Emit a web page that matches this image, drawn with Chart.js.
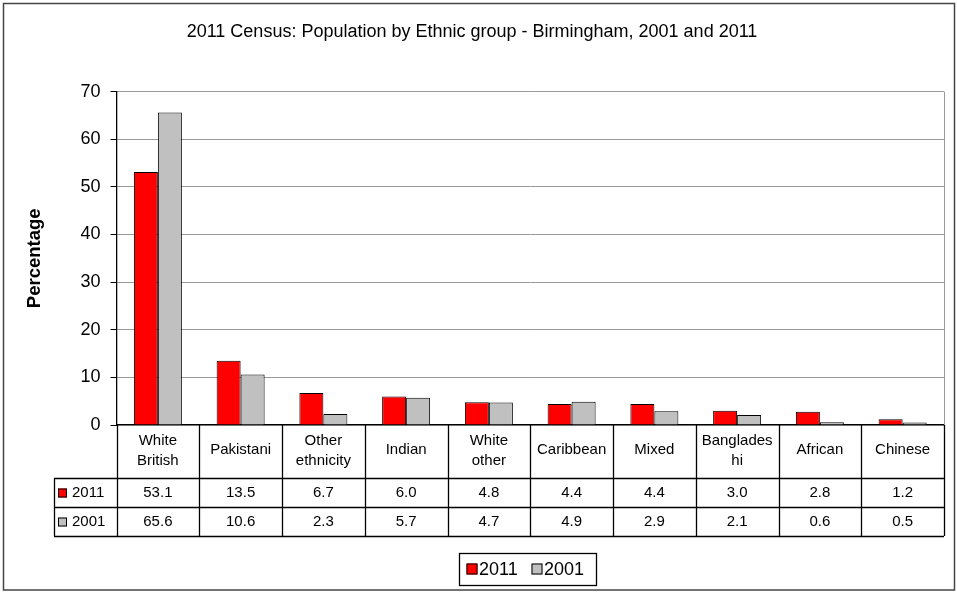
<!DOCTYPE html>
<html>
<head>
<meta charset="utf-8">
<title>2011 Census: Population by Ethnic group - Birmingham</title>
<script src="https://cdn.jsdelivr.net/npm/chart.js@4.4.1/dist/chart.umd.min.js"></script>
<style>
  html, body { margin: 0; padding: 0; background: #fff; }
  canvas { display: block; }
</style>
</head>
<body>
<canvas id="chart" width="957" height="592"></canvas>
<script>
// data
const categories = [['White', 'British'], 'Pakistani', ['Other', 'ethnicity'], 'Indian', ['White', 'other'],
    'Caribbean', 'Mixed', ['Banglades', 'hi'], 'African', 'Chinese'];
const values2011 = [53.1, 13.5, 6.7, 6.0, 4.8, 4.4, 4.4, 3.0, 2.8, 1.2];
const values2001 = [65.6, 10.6, 2.3, 5.7, 4.7, 4.9, 2.9, 2.1, 0.6, 0.5];
const seriesNames = ['2011', '2001'];
const yTicks = [0, 10, 20, 30, 40, 50, 60, 70];

const FONT = '"Liberation Sans", Arial, sans-serif';

// draws the data table under the axis, the boxed legend and the outer frame
const tablePlugin = {
    id: 'dataTable',
    afterDraw(chart) {
        const ctx = chart.ctx;
        const x = chart.scales.x;
        const area = chart.chartArea;
        const n = chart.data.labels.length;
        const colW = (area.right - area.left) / n;
        const top = area.bottom;
        const row1 = 478, row2 = 507, row3 = 536;
        const leftCol = 54;

        ctx.save();
        // plot area right border
        ctx.strokeStyle = '#999';
        ctx.lineWidth = 1;
        ctx.beginPath();
        ctx.moveTo(Math.round(area.right) + 0.5, area.top);
        ctx.lineTo(Math.round(area.right) + 0.5, area.bottom);
        ctx.stroke();

        // table grid
        ctx.strokeStyle = '#000';
        ctx.lineWidth = 1.3;
        ctx.beginPath();
        for (let i = 0; i <= n; i++) {
            const xx = Math.round(area.left + i * colW) + 0.5;
            ctx.moveTo(xx, top);
            ctx.lineTo(xx, row3);
        }
        ctx.moveTo(leftCol + 0.5, row1);
        ctx.lineTo(leftCol + 0.5, row3);
        [row1, row2, row3].forEach(y => {
            ctx.moveTo(leftCol, y + 0.5);
            ctx.lineTo(area.right, y + 0.5);
        });
        ctx.stroke();

        // header labels
        ctx.fillStyle = '#000';
        ctx.font = '15px ' + FONT;
        ctx.textAlign = 'center';
        ctx.textBaseline = 'middle';
        chart.data.labels.forEach((lab, i) => {
            const cx = x.getPixelForValue(i);
            if (Array.isArray(lab)) {
                ctx.fillText(lab[0], cx, 441);
                ctx.fillText(lab[1], cx, 461);
            } else {
                ctx.fillText(lab, cx, 450);
            }
        });

        // value rows
        const rowY = [493, 522];
        chart.data.datasets.forEach((ds, d) => {
            ds.data.forEach((v, i) => {
                ctx.fillText(v.toFixed(1), x.getPixelForValue(i), rowY[d]);
            });
            // key square + series name
            ctx.fillStyle = ds.backgroundColor;
            ctx.fillRect(58, rowY[d] - 4.5, 9, 9);
            ctx.strokeStyle = '#000';
            ctx.lineWidth = 1;
            ctx.strokeRect(58.5, rowY[d] - 4, 8, 8);
            ctx.fillStyle = '#000';
            ctx.textAlign = 'left';
            ctx.fillText(ds.label, 72, rowY[d]);
            ctx.textAlign = 'center';
        });

        // legend box
        ctx.lineWidth = 1.3;
        ctx.strokeStyle = '#000';
        ctx.strokeRect(459.5, 553.5, 137, 32);
        ctx.font = '18px ' + FONT;
        ctx.textAlign = 'left';
        const keyX = [466.5, 531.5];
        chart.data.datasets.forEach((ds, d) => {
            ctx.fillStyle = ds.backgroundColor;
            ctx.fillRect(keyX[d], 563.5, 11, 11);
            ctx.lineWidth = 1;
            ctx.strokeRect(keyX[d] + 0.5, 564, 10, 10);
            ctx.fillStyle = '#000';
            ctx.fillText(ds.label, keyX[d] + 12.5, 570);
        });

        // outer frame
        ctx.strokeStyle = '#444';
        ctx.lineWidth = 1.5;
        ctx.strokeRect(3.5, 3.5, 951, 586.5);
        ctx.restore();
    }
};

new Chart(document.getElementById('chart'), {
    type: 'bar',
    data: {
        labels: categories,
        datasets: [{
            label: seriesNames[0],
            data: values2011,
            backgroundColor: '#FF0000',
            borderColor: '#000',
            borderWidth: 1
        }, {
            label: seriesNames[1],
            data: values2001,
            backgroundColor: '#C0C0C0',
            borderColor: '#000',
            borderWidth: 1
        }]
    },
    options: {
        responsive: false,
        animation: false,
        devicePixelRatio: 1,
        layout: { padding: { left: 0, right: 13, top: 0, bottom: 0 } },
        datasets: {
            bar: { categoryPercentage: 0.58, barPercentage: 1.0 }
        },
        plugins: {
            legend: { display: false },
            tooltip: { enabled: false },
            title: {
                display: true,
                text: '2011 Census: Population by Ethnic group - Birmingham, 2001 and 2011',
                color: '#000',
                font: { family: FONT, size: 18, weight: 'normal', lineHeight: 1.2 },
                padding: { top: 21, bottom: 49 }
            }
        },
        scales: {
            x: {
                ticks: { display: false },
                grid: { display: false },
                border: { display: true, color: '#000', width: 1.3 },
                afterFit(scale) { scale.height = 167; }
            },
            y: {
                min: 0,
                max: 70,
                afterBuildTicks(scale) { scale.ticks = yTicks.map(v => ({ value: v })); },
                ticks: {
                    color: '#000',
                    font: { family: FONT, size: 18 },
                    padding: 10
                },
                grid: { color: '#999', tickColor: '#000', tickLength: 6, lineWidth: 1 },
                border: { display: true, color: '#000', width: 1.3 },
                title: {
                    display: true,
                    text: 'Percentage',
                    color: '#000',
                    font: { family: FONT, size: 18.5, weight: 'bold', lineHeight: 1.2 },
                    padding: { top: 24, bottom: 0 }
                },
                afterFit(scale) { scale.width = 116.5; }
            }
        }
    },
    plugins: [tablePlugin]
});
</script>
</body>
</html>
